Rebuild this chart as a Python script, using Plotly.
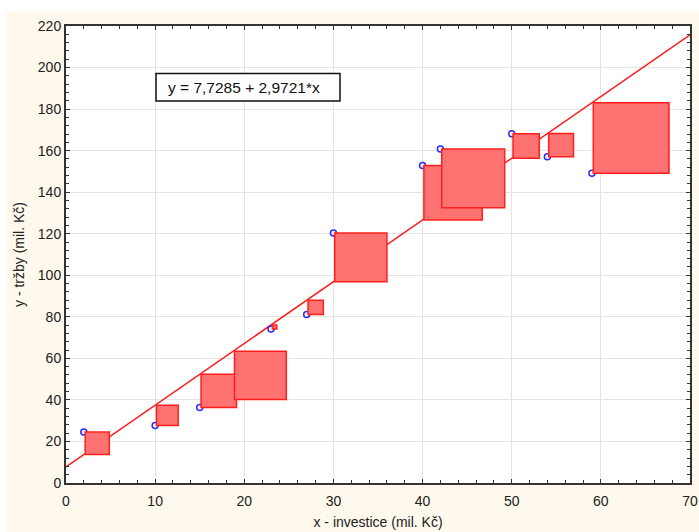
import plotly.graph_objects as go

# data
investice = [2, 10, 15, 18.75, 23, 27, 30, 40, 42, 50, 54, 59]
trzby = [24.5, 27.7, 36.4, 40.2, 74.1, 81.1, 120.3, 152.8, 160.8, 168.1, 157.1, 149.1]
intercept = 7.7285
slope = 2.9721
x_ticks = [0, 10, 20, 30, 40, 50, 60, 70]
y_ticks = [0, 20, 40, 60, 80, 100, 120, 140, 160, 180, 200, 220]
equation = "y = 7,7285 + 2,9721*x"

W, H = 699, 532
L, R, T, B = 66, 9, 26, 49
pw, ph = W - L - R, H - T - B

def px_x(p):
    return (p - L) / pw

def px_y(p):
    return (H - B - p) / ph

K = 4.0      # y-units per x-unit for residual squares
OFF = 0.15   # small gap between point and its square

fig = go.Figure()

line_x = [x_ticks[0], x_ticks[-1]]
line_y = [intercept + slope * v for v in line_x]
fig.add_trace(go.Scatter(x=line_x, y=line_y, mode="lines",
                         line=dict(color="#ff1a1a", width=1.5),
                         hoverinfo="skip", showlegend=False))
fig.add_trace(go.Scatter(x=investice, y=trzby, mode="markers",
                         marker=dict(symbol="circle-open", size=6,
                                     color="#2a2aff", line=dict(width=1.5)),
                         showlegend=False))

shapes = []
# white strips outside the cream background
shapes.append(dict(type="rect", xref="paper", yref="paper",
                   x0=px_x(0), x1=px_x(W), y0=px_y(12), y1=px_y(0),
                   fillcolor="white", line=dict(width=0), layer="below"))
shapes.append(dict(type="rect", xref="paper", yref="paper",
                   x0=px_x(0), x1=px_x(6), y0=px_y(H), y1=px_y(0),
                   fillcolor="white", line=dict(width=0), layer="below"))
for xv, yv in zip(investice, trzby):
    yh = intercept + slope * xv
    side = abs(yv - yh) / K
    shapes.append(dict(type="rect", xref="x", yref="y",
                       x0=xv + OFF, x1=xv + OFF + side, y0=min(yv, yh), y1=max(yv, yh),
                       fillcolor="#ff7272", line=dict(color="#ff1f1f", width=1.5),
                       layer="above"))
# equation box
shapes.append(dict(type="rect", xref="paper", yref="paper",
                   x0=px_x(156), x1=px_x(340), y0=px_y(101), y1=px_y(73.5),
                   fillcolor="white", line=dict(color="#111111", width=1.5),
                   layer="above"))
fig.update_layout(shapes=shapes)

fig.add_annotation(xref="paper", yref="paper", x=px_x(166), y=px_y(87.5),
                   xanchor="left", yanchor="middle", showarrow=False,
                   text=equation, font=dict(size=15.5, color="#111111"))

axis_common = dict(showline=True, linecolor="#333333", linewidth=2, mirror="ticks",
                   ticks="inside", ticklen=4, tickwidth=1, tickcolor="#333333",
                   showgrid=True, gridcolor="#e4e4e4", gridwidth=1, zeroline=False,
                   automargin=False, tickfont=dict(size=14, color="#222222"))

fig.update_xaxes(range=[0, 70], tickvals=x_ticks, **axis_common, ticklabelstandoff=4,
                 minor=dict(dtick=2, ticks="inside", ticklen=3, tickcolor="#333333", showgrid=False),
                 title=dict(text="x - investice (mil. Kč)", font=dict(size=14, color="#222222"), standoff=9))
fig.update_yaxes(range=[0, 220], tickvals=y_ticks, **axis_common,
                 minor=dict(dtick=4, ticks="inside", ticklen=3, tickcolor="#333333", showgrid=False),
                 title=dict(text="y - tržby (mil. Kč)", font=dict(size=14, color="#222222"), standoff=10))

fig.update_layout(width=W, height=H, margin=dict(l=L, r=R, t=T, b=B),
                  paper_bgcolor="#fff8ec", plot_bgcolor="white",
                  font=dict(family="Liberation Sans, Arial, sans-serif"))

fig.write_html("out.html")
